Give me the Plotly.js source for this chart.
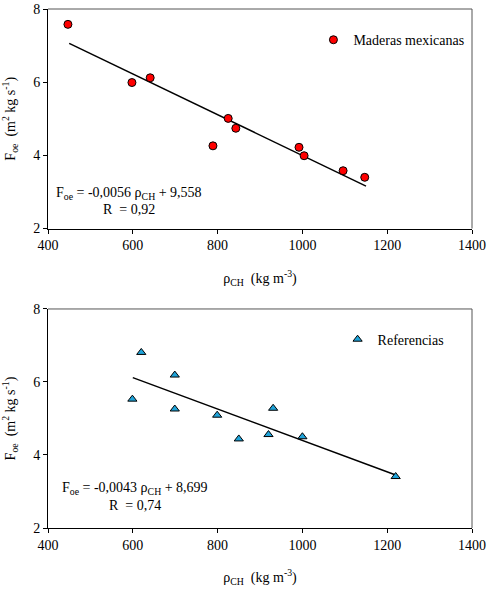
<!DOCTYPE html>
<html><head><meta charset="utf-8">
<script src="https://cdn.plot.ly/plotly-3.0.1.min.js"></script>
<style>body{margin:0;background:#fff}#c{width:494px;height:590px}
#c svg text{font-family:"Liberation Serif","Times New Roman",serif !important;}</style>
</head><body><div id="c"></div>
<script>
// Top panel: Maderas mexicanas
const mexDensity = [447, 598, 641, 789, 825, 843, 992, 1004, 1096, 1147];
const mexFoe     = [7.58, 5.99, 6.12, 4.26, 5.01, 4.74, 4.22, 3.99, 3.58, 3.40];
const mexFitX    = [450, 1150];
const mexFitY    = [7.06, 3.16];
// Bottom panel: Referencias
const refDensity = [599, 620, 699, 699, 799, 850, 920, 931, 1000, 1220];
const refFoe     = [5.53, 6.81, 6.19, 5.26, 5.09, 4.44, 4.56, 5.28, 4.50, 3.41];
const refFitX    = [600, 1220];
const refFitY    = [6.12, 3.45];
const xTicks = [400, 600, 800, 1000, 1200, 1400];
const yTicks = [2, 4, 6, 8];

const font = {family: 'Liberation Serif', size: 14, color: '#000'};

const traces = [
  {x: mexFitX, y: mexFitY, mode: 'lines', line: {color: '#000', width: 1.5}, showlegend: false, xaxis: 'x', yaxis: 'y', hoverinfo: 'skip'},
  {x: mexDensity, y: mexFoe, mode: 'markers', name: 'Maderas mexicanas',
   marker: {symbol: 'circle', size: 8, color: '#ff0000', line: {color: '#000', width: 1}},
   xaxis: 'x', yaxis: 'y', legend: 'legend'},
  {x: refFitX, y: refFitY, mode: 'lines', line: {color: '#000', width: 1.5}, showlegend: false, xaxis: 'x2', yaxis: 'y2', hoverinfo: 'skip'},
  {x: refDensity, y: refFoe, mode: 'markers', name: 'Referencias',
   marker: {symbol: 'triangle-up', size: 8, color: '#1fa3d9', line: {color: '#000', width: 1}},
   xaxis: 'x2', yaxis: 'y2', legend: 'legend2'}
];

function xa(anchor) {
  return {range: [400, 1400], tickvals: xTicks, ticktext: xTicks.map(String), anchor: anchor,
    showgrid: false, zeroline: false, showline: true, linecolor: '#000', linewidth: 1,
    mirror: false, ticks: 'outside', ticklen: 4, tickcolor: '#000', tickfont: font,
    title: {text: 'ρ<sub>CH</sub>  (kg m<sup>-3</sup>)', font: font, standoff: 20}};
}
function ya(anchor, dom) {
  return {range: [2, 8], tickvals: yTicks, ticktext: yTicks.map(String), anchor: anchor, domain: dom,
    showgrid: false, zeroline: false, showline: true, linecolor: '#000', linewidth: 1,
    ticks: 'outside', ticklen: 4, tickcolor: '#000', tickfont: font,
    title: {text: 'F<sub>oe</sub>  (m<sup>2</sup> kg s<sup>-1</sup>)', font: font, standoff: 14}};
}

const layout = {
  width: 494, height: 590,
  margin: {l: 48, r: 22, t: 9, b: 62},
  paper_bgcolor: '#fff', plot_bgcolor: '#fff',
  font: font,
  xaxis: xa('y'),
  yaxis: ya('x', [0.577, 1]),
  xaxis2: xa('y2'),
  yaxis2: ya('x2', [0, 0.422]),
  legend: {x: 0.626, y: 0.94, xanchor: 'left', yanchor: 'middle', bgcolor: 'rgba(0,0,0,0)', font: font, itemwidth: 30},
  legend2: {x: 0.683, y: 0.363, xanchor: 'left', yanchor: 'middle', bgcolor: 'rgba(0,0,0,0)', font: font, itemwidth: 30},
  shapes: [
    {type: 'line', xref: 'x domain', yref: 'y domain', x0: 0, x1: 1, y0: 1, y1: 1, line: {color: '#555', width: 1}},
    {type: 'line', xref: 'x domain', yref: 'y domain', x0: 1, x1: 1, y0: 0, y1: 1, line: {color: '#555', width: 1}},
    {type: 'line', xref: 'x2 domain', yref: 'y2 domain', x0: 0, x1: 1, y0: 1, y1: 1, line: {color: '#555', width: 1}},
    {type: 'line', xref: 'x2 domain', yref: 'y2 domain', x0: 1, x1: 1, y0: 0, y1: 1, line: {color: '#555', width: 1}}
  ],
  annotations: [
    {xref: 'x', yref: 'y', x: 591, y: 2.95, text: 'F<sub>oe</sub> = -0,0056 ρ<sub>CH</sub> + 9,558', showarrow: false, font: font},
    {xref: 'x', yref: 'y', x: 591, y: 2.53, text: 'R  = 0,92', showarrow: false, font: font},
    {xref: 'x2', yref: 'y2', x: 606, y: 3.07, text: 'F<sub>oe</sub> = -0,0043 ρ<sub>CH</sub> + 8,699', showarrow: false, font: font},
    {xref: 'x2', yref: 'y2', x: 606, y: 2.63, text: 'R  = 0,74', showarrow: false, font: font}
  ]
};

Plotly.newPlot('c', traces, layout, {staticPlot: true, displayModeBar: false});
</script>
</body></html>
